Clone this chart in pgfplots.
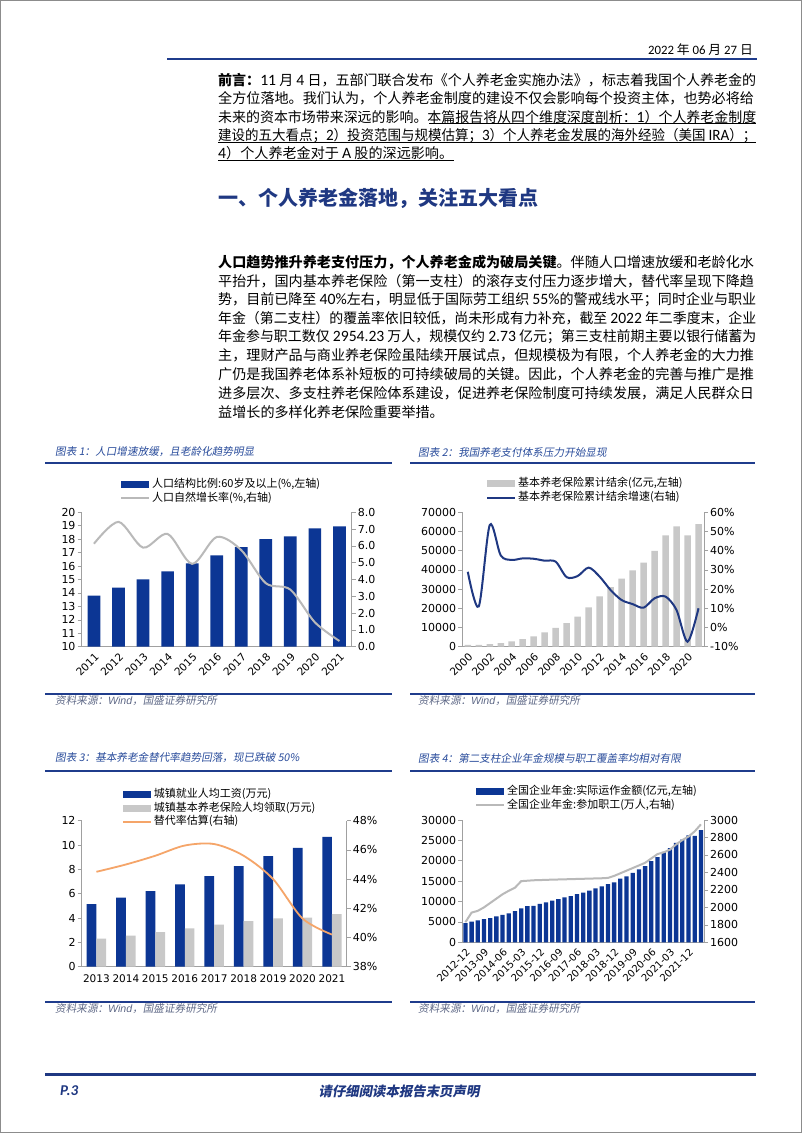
\documentclass[border=0pt]{standalone}
\usepackage{fontspec}
\usepackage{xcolor}
\usepackage{graphicx}
\usepackage{pgfplots}
\pgfplotsset{compat=1.18}
\setmainfont{Noto Sans CJK SC}
\newfontfamily\cjkit[FakeSlant=0.18]{Noto Sans CJK SC}
\newfontfamily\numf[Scale=1.12]{Carlito}
\newfontfamily\calf{Carlito}
\newfontfamily\dv{DejaVu Sans}
\newfontfamily\lsit{Liberation Sans}
\XeTeXlinebreaklocale "zh"
\XeTeXlinebreakskip=0pt plus 3pt
\definecolor{barblue}{RGB}{12,54,148}
\definecolor{navy}{RGB}{31,56,130}
\definecolor{ruleblue}{RGB}{31,60,140}
\definecolor{titleblue}{RGB}{40,75,155}
\definecolor{srcgray}{RGB}{95,105,135}
\definecolor{lightbar}{RGB}{200,200,200}
\definecolor{linegray}{RGB}{185,185,185}
\definecolor{orangeline}{RGB}{245,165,105}
\definecolor{axgray}{RGB}{160,160,160}
\definecolor{pagegray}{RGB}{140,140,140}
\newcommand\fs[1]{\fontsize{#1}{#1}\selectfont}
\newcommand\n[1]{{\numf #1}}
\newsavebox\linebox
\newcommand\fitline[1]{\sbox\linebox{#1}\ifdim\wd\linebox>538pt\resizebox{538pt}{\ht\linebox}{\usebox\linebox}\else\makebox[538pt][s]{#1}\fi}
\newcommand\bodyline[2]{\node[anchor=west,inner sep=0pt,font=\fs{14.1}] at (218,#1) {\fitline{#2}};}
\newcommand\lastline[2]{\node[anchor=west,inner sep=0pt,font=\fs{14.1}] at (218,#1) {#2};}
\newcommand\charttitle[2]{\node[anchor=west,inner sep=0pt,font=\cjkit\fs{10.6},text=titleblue] at #1 {#2};}
\newcommand\source[1]{\node[anchor=west,inner sep=0pt,font=\cjkit\fs{10.6},text=srcgray] at #1 {资料来源：{\lsit\itshape Wind}，国盛证券研究所};}
\pgfplotsset{
  base/.style={scale only axis, anchor=south west,
    axis line style={draw=axgray, line width=0.7pt, -},
    x axis line style={-}, y axis line style={-},
    every tick/.style={draw=axgray, line width=0.6pt},
    tick align=outside, major tick length=4pt,
    scaled x ticks=false, scaled y ticks=false,
    yticklabel style={font=\dv\fs{11}, inner sep=2pt, text=black},
    xticklabel style={font=\dv\fs{10.5}, text=black},
    xtick style={draw=none},
    legend cell align=left},
  leg/.style={legend style={at={#1}, anchor=north west, draw=none, fill=none,
    inner sep=0pt, row sep=0pt, font=\fs{11},
    nodes={inner sep=2pt, text height=8pt, text depth=1.8pt}}},
  barimg/.style={legend image code/.code={\fill[#1] (0pt,-3.5pt) rectangle (28pt,3.5pt);}},
  lineimg/.style 2 args={legend image code/.code={\draw[#1, line width=#2] (0pt,0pt) -- (28pt,0pt);}}
}
\begin{document}
\begin{tikzpicture}[x=1pt,y=1pt]
\path[use as bounding box] (0,0) rectangle (802,1133);
\fill[white] (0,0) rectangle (802,1133);
\draw[pagegray, line width=1.2pt] (0.6,0.6) rectangle (801.4,1132.4);

% header
\node[anchor=east, inner sep=0pt, font=\fs{12.8}] at (753,1083) {{\calf 2022} 年 {\calf 06} 月 {\calf 27} 日};
\draw[ruleblue, line width=1.5pt] (167,1074) -- (757,1074);

% preface
\bodyline{1053}{{\bfseries 前言：}\n{11} 月 \n{4} 日，五部门联合发布《个人养老金实施办法》，标志着我国个人养老金的}
\bodyline{1034.6}{全方位落地。我们认为，个人养老金制度的建设不仅会影响每个投资主体，也势必将给}
\bodyline{1016.2}{未来的资本市场带来深远的影响。本篇报告将从四个维度深度剖析：\n{1}）个人养老金制度}
\bodyline{997.8}{建设的五大看点；\n{2}）投资范围与规模估算；\n{3}）个人养老金发展的海外经验（美国 \n{IRA}）；}
\lastline{979.4}{\n{4}）个人养老金对于 \n{A} 股的深远影响。}
\draw[black, line width=0.6pt] (429,1009.3) -- (756,1009.3);
\draw[black, line width=0.6pt] (218,990.9) -- (756,990.9);
\draw[black, line width=0.6pt] (218,972.5) -- (454,972.5);

% heading
\node[anchor=west, inner sep=0pt, font=\bfseries\fs{20}, text=navy] at (218,935) {一、个人养老金落地，关注五大看点};

% paragraph
\bodyline{871}{{\bfseries 人口趋势推升养老支付压力，个人养老金成为破局关键}。伴随人口增速放缓和老龄化水}
\bodyline{852.25}{平抬升，国内基本养老保险（第一支柱）的滚存支付压力逐步增大，替代率呈现下降趋}
\bodyline{833.5}{势，目前已降至 \n{40\%}左右，明显低于国际劳工组织 \n{55\%}的警戒线水平；同时企业与职业}
\bodyline{814.75}{年金（第二支柱）的覆盖率依旧较低，尚未形成有力补充，截至 \n{2022} 年二季度末，企业}
\bodyline{796}{年金参与职工数仅 \n{2954.23} 万人，规模仅约 \n{2.73} 亿元；第三支柱前期主要以银行储蓄为}
\bodyline{777.25}{主，理财产品与商业养老保险虽陆续开展试点，但规模极为有限，个人养老金的大力推}
\bodyline{758.5}{广仍是我国养老体系补短板的可持续破局的关键。因此，个人养老金的完善与推广是推}
\bodyline{739.75}{进多层次、多支柱养老保险体系建设，促进养老保险制度可持续发展，满足人民群众日}
\lastline{721}{益增长的多样化养老保险重要举措。}

% chart frames
\charttitle{(55,681)}{图表 1：人口增速放缓，且老龄化趋势明显}
\draw[ruleblue, line width=1.3pt] (45,670) -- (392,670);
\draw[ruleblue, line width=1.3pt] (45,439) -- (392,439);
\source{(55,432)}
\charttitle{(418,681)}{图表 2：我国养老支付体系压力开始显现}
\draw[ruleblue, line width=1.3pt] (410,670) -- (755,670);
\draw[ruleblue, line width=1.3pt] (410,439) -- (755,439);
\source{(418,432)}
\charttitle{(55,375)}{图表 3：基本养老金替代率趋势回落，现已跌破 50\%}
\draw[ruleblue, line width=1.3pt] (45,362) -- (392,362);
\draw[ruleblue, line width=1.3pt] (45,131) -- (392,131);
\source{(55,124)}
\charttitle{(418,375)}{图表 4：第二支柱企业年金规模与职工覆盖率均相对有限}
\draw[ruleblue, line width=1.3pt] (410,362) -- (755,362);
\draw[ruleblue, line width=1.3pt] (410,131) -- (755,131);
\source{(418,124)}

% footer
\draw[navy, line width=3pt] (45,58) -- (756,58);
\node[anchor=west, inner sep=0pt, font=\calf\bfseries\itshape\fs{15}, text=navy] at (60,42) {P.3};
\node[inner sep=0pt, font=\cjkit\bfseries\fs{13.4}, text=navy] at (399,42) {请仔细阅读本报告末页声明};

% ---------- chart 1 ----------
\begin{axis}[base, at={(81.7pt,486.3pt)}, width=270pt, height=134.4pt,
  xmin=-0.5, xmax=10.5, ymin=10, ymax=20,
  axis x line*=bottom, axis y line*=left,
  xtick={0,1,2,3,4,5,6,7,8,9,10},
  xticklabels={2011,2012,2013,2014,2015,2016,2017,2018,2019,2020,2021},
  xticklabel style={rotate=45, anchor=north east, inner sep=1pt},
  ytick={10,11,12,13,14,15,16,17,18,19,20},
  yticklabels={10,11,12,13,14,15,16,17,18,19,20},
  leg={(0.142,1.262)}]
\addplot[ybar, bar width=12.7pt, fill=barblue, draw=none, barimg=barblue]
  coordinates {(0,13.8) (1,14.4) (2,15.0) (3,15.6) (4,16.2) (5,16.8) (6,17.4) (7,18.0) (8,18.2) (9,18.8) (10,18.95)};
\addlegendentry{人口结构比例:60岁及以上(\%,左轴)}
\addlegendimage{lineimg={linegray}{2pt}}
\addlegendentry{人口自然增长率(\%,右轴)}
\end{axis}
\begin{axis}[base, at={(81.7pt,486.3pt)}, width=270pt, height=134.4pt,
  xmin=-0.5, xmax=10.5, ymin=0, ymax=8,
  axis x line=none, axis y line*=right,
  ytick={0,1,2,3,4,5,6,7,8},
  yticklabels={0.0,1.0,2.0,3.0,4.0,5.0,6.0,7.0,8.0}]
\addplot[linegray, line width=2pt, smooth, mark=none]
  coordinates {(0,6.13) (1,7.43) (2,5.90) (3,6.71) (4,4.93) (5,6.53) (6,5.75) (7,3.78) (8,3.40) (9,1.45) (10,0.34)};
\end{axis}

% ---------- chart 2 ----------
\begin{axis}[base, at={(462.3pt,486.3pt)}, width=241.7pt, height=134.4pt,
  xmin=-0.5, xmax=21.5, ymin=0, ymax=70000,
  axis x line*=bottom, axis y line*=left,
  xtick={0,2,4,6,8,10,12,14,16,18,20},
  xticklabels={2000,2002,2004,2006,2008,2010,2012,2014,2016,2018,2020},
  xticklabel style={rotate=45, anchor=north east, inner sep=1pt},
  ytick={0,10000,20000,30000,40000,50000,60000,70000},
  yticklabels={0,10000,20000,30000,40000,50000,60000,70000},
  leg={(0.098,1.265)}]
\addplot[ybar, bar width=6.5pt, fill=lightbar, draw=none, barimg=lightbar]
  coordinates {(0,900) (1,1000) (2,1400) (3,1900) (4,2800) (5,3900) (6,5400) (7,7400) (8,9800) (9,12300) (10,15600) (11,20500) (12,26200) (13,31000) (14,35500) (15,39800) (16,43800) (17,49900) (18,58000) (19,62700) (20,58000) (21,63800)};
\addlegendentry{基本养老保险累计结余(亿元,左轴)}
\addlegendimage{lineimg={navy}{2pt}}
\addlegendentry{基本养老保险累计结余增速(右轴)}
\end{axis}
\begin{axis}[base, at={(462.3pt,486.3pt)}, width=241.7pt, height=134.4pt,
  xmin=-0.5, xmax=21.5, ymin=-10, ymax=60,
  axis x line=none, axis y line*=right,
  ytick={-10,0,10,20,30,40,50,60},
  yticklabels={-10\%,0\%,10\%,20\%,30\%,40\%,50\%,60\%}]
\addplot[navy, line width=2pt, smooth, mark=none]
  coordinates {(0,29) (1,11) (2,53.4) (3,37.5) (4,35.2) (5,36) (6,35.8) (7,34.8) (8,34.3) (9,26.2) (10,26.8) (11,31.2) (12,26.5) (13,19.5) (14,14.3) (15,12.2) (16,10.3) (17,15.2) (18,16.1) (19,9.1) (20,-7.4) (21,10)};
\end{axis}

% ---------- chart 3 ----------
\begin{axis}[base, at={(81.7pt,166.3pt)}, width=265pt, height=146pt,
  xmin=-0.5, xmax=8.5, ymin=0, ymax=12,
  axis x line*=bottom, axis y line*=left,
  xtick={0,1,2,3,4,5,6,7,8},
  xticklabels={2013,2014,2015,2016,2017,2018,2019,2020,2021},
  ytick={0,2,4,6,8,10,12},
  yticklabels={0,2,4,6,8,10,12},
  leg={(0.152,1.23)}]
\addplot[ybar, bar width=9.7pt, bar shift=-4.85pt, fill=barblue, draw=none, barimg=barblue]
  coordinates {(0,5.15) (1,5.68) (2,6.22) (3,6.77) (4,7.45) (5,8.26) (6,9.08) (7,9.76) (8,10.68)};
\addlegendentry{城镇就业人均工资(万元)}
\addplot[ybar, bar width=9.7pt, bar shift=4.85pt, fill=lightbar, draw=none, barimg=lightbar]
  coordinates {(0,2.30) (1,2.55) (2,2.85) (3,3.15) (4,3.45) (5,3.75) (6,3.97) (7,4.03) (8,4.33)};
\addlegendentry{城镇基本养老保险人均领取(万元)}
\addlegendimage{lineimg={orangeline}{1.8pt}}
\addlegendentry{替代率估算(右轴)}
\end{axis}
\begin{axis}[base, at={(81.7pt,166.3pt)}, width=265pt, height=146pt,
  xmin=-0.5, xmax=8.5, ymin=38, ymax=48,
  axis x line=none, axis y line*=right,
  ytick={38,40,42,44,46,48},
  yticklabels={38\%,40\%,42\%,44\%,46\%,48\%}]
\addplot[orangeline, line width=1.8pt, smooth, mark=none]
  coordinates {(0,44.5) (1,45.0) (2,45.6) (3,46.3) (4,46.4) (5,45.6) (6,44.0) (7,41.3) (8,40.2)};
\end{axis}

% ---------- chart 4 ----------
\begin{axis}[base, at={(462.3pt,190.7pt)}, width=241.7pt, height=122.3pt,
  xmin=-0.5, xmax=38.5, ymin=0, ymax=30000,
  axis x line*=bottom, axis y line*=left,
  xtick={0,3,6,9,12,15,18,21,24,27,30,33,36},
  xticklabels={2012-12,2013-09,2014-06,2015-03,2015-12,2016-09,2017-06,2018-03,2018-12,2019-09,2020-06,2021-03,2021-12},
  xticklabel style={rotate=45, anchor=north east, inner sep=1pt, font=\dv\fs{10}},
  ytick={0,5000,10000,15000,20000,25000,30000},
  yticklabels={0,5000,10000,15000,20000,25000,30000},
  leg={(0.0525,1.29)}]
\addplot[ybar, bar width=4.3pt, fill=barblue, draw=none, barimg=barblue]
  coordinates {(0,4700) (1,5050) (2,5400) (3,5700) (4,5950) (5,6350) (6,6750) (7,7100) (8,7650) (9,8300) (10,8900) (11,8950) (12,9450) (13,9800) (14,10200) (15,10600) (16,11000) (17,11300) (18,11800) (19,12200) (20,12700) (21,13200) (22,13700) (23,14300) (24,14700) (25,15600) (26,16200) (27,17000) (28,17900) (29,18700) (30,19900) (31,20900) (32,22200) (33,23100) (34,24400) (35,25200) (36,26200) (37,26100) (38,27500)};
\addlegendentry{全国企业年金:实际运作金额(亿元,左轴)}
\addlegendimage{lineimg={linegray}{2pt}}
\addlegendentry{全国企业年金:参加职工(万人,右轴)}
\end{axis}
\begin{axis}[base, at={(462.3pt,190.7pt)}, width=241.7pt, height=122.3pt,
  xmin=-0.5, xmax=38.5, ymin=1600, ymax=3000,
  axis x line=none, axis y line*=right,
  ytick={1600,1800,2000,2200,2400,2600,2800,3000},
  yticklabels={1600,1800,2000,2200,2400,2600,2800,3000}]
\addplot[linegray, line width=2pt, mark=none]
  coordinates {(0,1830) (1,1940) (2,1960) (3,2000) (4,2050) (5,2100) (6,2150) (7,2190) (8,2225) (9,2300) (10,2305) (11,2310) (12,2312) (13,2315) (14,2317) (15,2319) (16,2321) (17,2323) (18,2325) (19,2327) (20,2329) (21,2331) (22,2333) (23,2337) (24,2360) (25,2390) (26,2420) (27,2450) (28,2480) (29,2510) (30,2560) (31,2610) (32,2630) (33,2660) (34,2720) (35,2770) (36,2810) (37,2870) (38,2950)};
\end{axis}
\end{tikzpicture}
\end{document}
